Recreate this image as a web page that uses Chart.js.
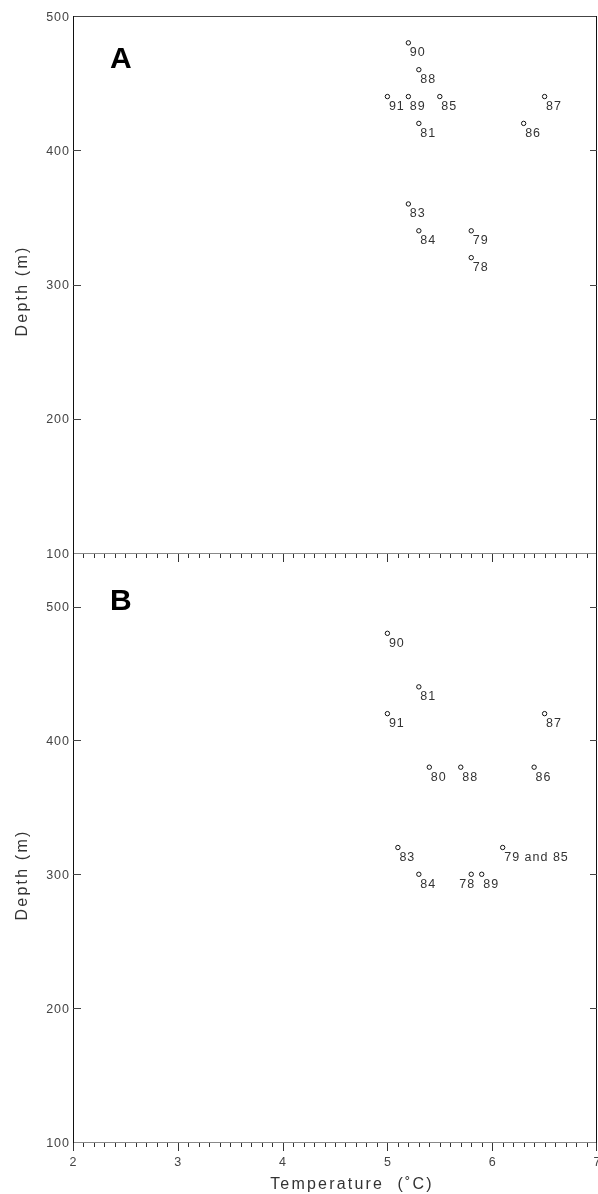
<!DOCTYPE html>
<html><head><meta charset="utf-8">
<script src="https://cdn.jsdelivr.net/npm/chart.js@4.4.0/dist/chart.umd.min.js"></script>
<style>
html,body{margin:0;padding:0;background:#fff;width:598px;height:1194px;overflow:hidden;position:relative;font-family:"Liberation Sans",Arial,sans-serif;}
canvas{position:absolute;left:0;}
#cA{top:0}
#cB{top:540px}
.t{position:absolute;color:#333;font-size:16px;line-height:16px;letter-spacing:2.2px;white-space:pre;}
#xt{left:252px;width:200px;text-align:center;top:1176px;}
.yt{width:120px;text-align:center;transform:translate(-50%,-50%) rotate(-90deg);left:22px;}
#ytA{top:291px}
#ytB{top:875px}
</style></head><body>
<canvas id="cA" width="598" height="566"></canvas>
<canvas id="cB" width="598" height="654"></canvas>
<div class="t" id="xt">Temperature  (˚C)</div>
<div class="t yt" id="ytA">Depth (m)</div>
<div class="t yt" id="ytB">Depth (m)</div>
<script>
// ---- data ----
const tempTicks = [2, 3, 4, 5, 6, 7];
const depthTicks = [100, 200, 300, 400, 500];

const labelsA = ['90', '88', '91', '89', '85', '87', '81', '86', '83', '84', '79', '78'];
const tempA   = [5.2, 5.3, 5.0, 5.2, 5.5, 6.5, 5.3, 6.3, 5.2, 5.3, 5.8, 5.8];
const depthA  = [480, 460, 440, 440, 440, 440, 420, 420, 360, 340, 340, 320];

const labelsB = ['90', '81', '91', '87', '80', '88', '86', '83', '79 and 85', '84', '78', '89'];
const tempB   = [5.0, 5.3, 5.0, 6.5, 5.4, 5.7, 6.4, 5.1, 6.1, 5.3, 5.8, 5.9];
const depthB  = [480, 440, 420, 420, 380, 380, 380, 320, 320, 300, 300, 300];

const leftLabelsB = ['78'];

// ---- helpers ----
function spaced(ctx, text, x, y, sp, align) {
  const chars = [...text];
  const ws = chars.map(c => ctx.measureText(c).width);
  const total = ws.reduce((a, b) => a + b, 0) + sp * (chars.length - 1);
  let cx = align === 'right' ? x - total : align === 'center' ? x - total / 2 : x;
  ctx.textAlign = 'left';
  chars.forEach((c, i) => { ctx.fillText(c, cx, y); cx += ws[i] + sp; });
}
function line(ctx, x1, y1, x2, y2) {
  ctx.beginPath(); ctx.moveTo(x1, y1); ctx.lineTo(x2, y2); ctx.stroke();
}
const SMALL = '12.5px "Liberation Sans", Arial, sans-serif';

const framePlugin = {
  id: 'frame',
  beforeDatasetsDraw(chart, args, o) {
    const { ctx, chartArea: a, scales: { x, y } } = chart;
    ctx.save();
    ctx.lineWidth = 1;
    if (o.top) { ctx.strokeStyle = '#444'; line(ctx, a.left, a.top + 0.5, a.right, a.top + 0.5); }
    ctx.strokeStyle = '#888';
    line(ctx, a.left, a.bottom + 0.5, a.right, a.bottom + 0.5);
    ctx.strokeStyle = '#111';
    line(ctx, a.left + 0.5, a.top, a.left + 0.5, a.bottom + 1);
    line(ctx, a.right - 0.5, a.top, a.right - 0.5, a.bottom + 1);
    ctx.strokeStyle = '#333';
    const t0 = tempTicks[0], t1 = tempTicks[tempTicks.length - 1];
    const n = Math.round((t1 - t0) * 10);
    for (let i = 0; i <= n; i++) {
      const v = t0 + i / 10;
      let px = Math.round(x.getPixelForValue(v)) + 0.5;
      if (px > a.right) px = a.right - 0.5;
      const len = i % 10 === 0 ? 8 : 4;
      line(ctx, px, a.bottom + 1, px, a.bottom + 1 + len);
    }
    ctx.strokeStyle = '#444';
    depthTicks.forEach(v => {
      const py = Math.round(y.getPixelForValue(v)) + 0.5;
      if (py <= a.top + 2 || py >= a.bottom - 2) return;
      line(ctx, a.left, py, a.left + 8, py);
      line(ctx, a.right - 7, py, a.right, py);
    });
    ctx.fillStyle = '#444';
    ctx.font = SMALL;
    ctx.textBaseline = 'alphabetic';
    depthTicks.forEach(v => spaced(ctx, String(v), a.left - 4, y.getPixelForValue(v) + 4.5, 1, 'right'));
    if (o.xlabels) {
      tempTicks.forEach(v => spaced(ctx, String(v), x.getPixelForValue(v), a.bottom + 24, 1, 'center'));
    }
    ctx.fillStyle = '#000';
    ctx.font = 'bold 30px "Liberation Sans", Arial, sans-serif';
    ctx.fillText(o.letter, o.lx, o.ly);
    ctx.restore();
  },
  afterDatasetsDraw(chart, args, o) {
    const { ctx } = chart;
    const meta = chart.getDatasetMeta(0);
    ctx.save();
    ctx.fillStyle = '#333';
    ctx.font = SMALL;
    ctx.textBaseline = 'alphabetic';
    meta.data.forEach((pt, i) => {
      const txt = o.labels[i];
      if (o.left.includes(txt)) spaced(ctx, txt, pt.x + 3, pt.y + 13.5, 1, 'right');
      else spaced(ctx, txt, pt.x + 1.5, pt.y + 13.5, 1, 'left');
    });
    ctx.restore();
  }
};

function makeChart(id, temps, depths, opts) {
  return new Chart(document.getElementById(id), {
    type: 'scatter',
    data: {
      datasets: [{
        data: temps.map((t, i) => ({ x: t, y: depths[i] })),
        pointRadius: 2.2, pointHoverRadius: 2.2, borderWidth: 1,
        borderColor: '#111', backgroundColor: '#fff', clip: false
      }]
    },
    options: {
      responsive: false, animation: false, devicePixelRatio: 1, events: [],
      layout: { autoPadding: false, padding: { top: opts.padTop, right: 1, left: 0, bottom: 0 } },
      plugins: { legend: { display: false }, tooltip: { enabled: false }, frame: opts },
      scales: {
        x: {
          type: 'linear', min: tempTicks[0], max: tempTicks[tempTicks.length - 1],
          grid: { display: false, drawTicks: false }, border: { display: false },
          ticks: { display: false },
          afterFit(s) { s.height = opts.xHeight; s.paddingLeft = 0; s.paddingRight = 0; }
        },
        y: {
          type: 'linear', min: depthTicks[0], max: opts.yMax,
          grid: { display: false, drawTicks: false }, border: { display: false },
          ticks: { display: false },
          afterFit(s) { s.width = 73; s.paddingTop = 0; s.paddingBottom = 0; }
        }
      }
    },
    plugins: [framePlugin]
  });
}

makeChart('cA', tempA, depthA, {
  padTop: 16, xHeight: 13, yMax: 500, top: true, xlabels: false,
  letter: 'A', lx: 110, ly: 68, labels: labelsA, left: []
});
makeChart('cB', tempB, depthB, {
  padTop: 13, xHeight: 52, yMax: 540, top: false, xlabels: true,
  letter: 'B', lx: 110, ly: 70, labels: labelsB, left: leftLabelsB
});
</script>
</body></html>
